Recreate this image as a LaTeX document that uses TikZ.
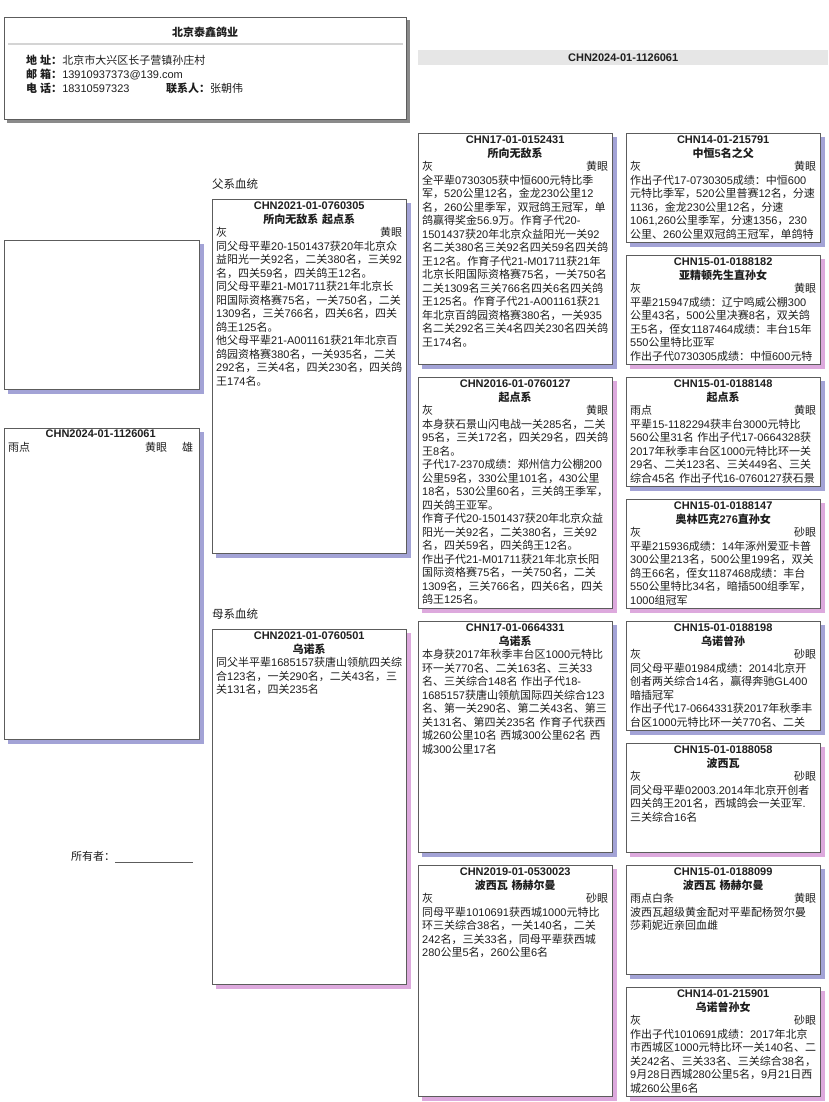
\documentclass[tikz,border=0pt]{standalone}
\usepackage{fontspec}
\setmainfont{Liberation Sans}
\newfontfamily\cjkfam{Noto Sans CJK SC}
\usetikzlibrary{positioning,backgrounds}
\definecolor{ink}{HTML}{1E1E1E}
\definecolor{edge}{HTML}{5C5C5C}
\definecolor{shblue}{HTML}{A3A3D6}
\definecolor{shpink}{HTML}{DDA9DD}
\definecolor{shgray}{HTML}{8A8A8A}
\definecolor{rule}{HTML}{D4D4D4}
\definecolor{bar}{HTML}{E6E6E6}

% Han and full-width signs in Noto, the rest in Liberation
\XeTeXinterchartokenstate=1
\newXeTeXintercharclass\cjkcls
\newcount\cjkn
\def\cjkrange#1#2{\cjkn=#1\relax
  \loop\XeTeXcharclass\cjkn=\cjkcls\relax
  \ifnum\cjkn<#2\relax\advance\cjkn by 1\relax\repeat}
\cjkrange{"3000}{"303F}
\cjkrange{"4E00}{"9FFF}
\cjkrange{"FF00}{"FFEF}
\XeTeXinterchartoks 0 \cjkcls = {\cjkfam}
\XeTeXinterchartoks 4095 \cjkcls = {\cjkfam}
\XeTeXinterchartoks \cjkcls 0 = {\rmfamily}
\XeTeXinterchartoks \cjkcls 4095 = {\rmfamily}
\exhyphenpenalty=10000
\hyphenpenalty=10000

\begin{document}
\begin{tikzpicture}[x=1pt,y=-1pt,every node/.style={font=\fontsize{11}{13.5}\selectfont,text=ink,inner sep=0pt},card/.style={draw=edge,fill=white,line width=.8pt,anchor=north west},big/.style={card,minimum width=194pt,minimum height=231pt},small/.style={card,minimum width=194pt,minimum height=109pt},info/.style={anchor=north west,text width=186pt,align=left}]
\path[use as bounding box] (0,0) rectangle (828,1102);

% header
\node[card,minimum width=402pt,minimum height=102pt] (hdr) at (4,17) {};
\node[anchor=base] (hdrT) at (205,36.5) {\bfseries 北京泰鑫鸽业};
\draw[rule,line width=1.8pt] ([xshift=4pt,yshift=-27pt]hdr.north west) -- ([xshift=-4pt,yshift=-27pt]hdr.north east);
\node[anchor=base west] (addr) at (26,65) {\textbf{地 址：}北京市大兴区长子营镇孙庄村};
\node[anchor=base west] (mail) at (26,78.5) {\textbf{邮 箱：}13910937373@139.com};
\node[anchor=base west] (tel) at (26,93) {\textbf{电 话：}18310597323};
\node[anchor=base west] (who) at (166,93) {\textbf{联系人：}张朝伟};

\node[fill=bar,anchor=north west,minimum width=410pt,minimum height=15pt] (barR) at (418,50) {};
\node[anchor=base] (barT) at ([yshift=-4pt]barR.center) {\bfseries CHN2024-01-1126061};

% bird and owner
\node[card,minimum width=195pt,minimum height=149pt] (photo) at (4,240) {};
\node[card,minimum width=195pt,minimum height=311pt] (self) at (4,428) {};
\node[anchor=north west,text width=185pt,align=left] (selfTx) at ([xshift=4pt,yshift=-2pt]self.north west) {{\centering\bfseries CHN2024-01-1126061\par}
雨点\hfill 黄眼\hspace*{15pt}雄};
\node[anchor=base west] (own) at (71,860) {所有者：};
\draw[edge,line width=.6pt] ([yshift=-2pt]own.base east) -- ++(78,0);

% parents
\node[anchor=base west,font=\fontsize{11.5}{14}\selectfont] (sireL) at (212,188.5) {父系血统};
\node[card,minimum width=194pt,minimum height=354pt] (sire) at (212,199) {};
\node[info] (sireTx) at ([xshift=4pt,yshift=-3pt]sire.north west) {{\centering\bfseries CHN2021-01-0760305\\所向无敌系 起点系\par}
灰\hfill 黄眼\hspace*{2pt}\\
同父母平辈20-1501437获20年北京众\\
益阳光一关92名，二关380名，三关92\\
名，四关59名，四关鸽王12名。\\
同父母平辈21-M01711获21年北京长\\
阳国际资格赛75名，一关750名，二关\\
1309名，三关766名，四关6名，四关\\
鸽王125名。\\
他父母平辈21-A001161获21年北京百\\
鸽园资格赛380名，一关935名，二关\\
292名，三关4名，四关230名，四关鸽\\
王174名。};

\node[anchor=base west,font=\fontsize{11.5}{14}\selectfont] (damL) at (212,618.5) {母系血统};
\node[card,minimum width=194pt,minimum height=355pt] (dam) at (212,629) {};
\node[info] (damTx) at ([xshift=4pt,yshift=-3pt]dam.north west) {{\centering\bfseries CHN2021-01-0760501\\乌诺系\par}
同父半平辈1685157获唐山领航四关综\\
合123名，一关290名，二关43名，三\\
关131名，四关235名};

% grandparents
\node[big] (ss) at (418,133) {};
\node[info] (ssTx) at ([xshift=4pt,yshift=-3pt]ss.north west) {{\centering\bfseries CHN17-01-0152431\\所向无敌系\par}
灰\hfill 黄眼\hspace*{2pt}\\
全平辈0730305获中恒600元特比季\\
军，520公里12名，金龙230公里12\\
名，260公里季军，双冠鸽王冠军，单\\
鸽赢得奖金56.9万。作育子代20-\\
1501437获20年北京众益阳光一关92\\
名二关380名三关92名四关59名四关鸽\\
王12名。作育子代21-M01711获21年\\
北京长阳国际资格赛75名，一关750名\\
二关1309名三关766名四关6名四关鸽\\
王125名。作育子代21-A001161获21\\
年北京百鸽园资格赛380名，一关935\\
名二关292名三关4名四关230名四关鸽\\
王174名。};

\node[big] (sd) at (418,377) {};
\node[info] (sdTx) at ([xshift=4pt,yshift=-3pt]sd.north west) {{\centering\bfseries CHN2016-01-0760127\\起点系\par}
灰\hfill 黄眼\hspace*{2pt}\\
本身获石景山闪电战一关285名，二关\\
95名，三关172名，四关29名，四关鸽\\
王8名。\\
子代17-2370成绩：郑州信力公棚200\\
公里59名，330公里101名，430公里\\
18名，530公里60名，三关鸽王季军，\\
四关鸽王亚军。\\
作育子代20-1501437获20年北京众益\\
阳光一关92名，二关380名，三关92\\
名，四关59名，四关鸽王12名。\\
作出子代21-M01711获21年北京长阳\\
国际资格赛75名，一关750名，二关\\
1309名，三关766名，四关6名，四关\\
鸽王125名。};

\node[big] (ds) at (418,621) {};
\node[info] (dsTx) at ([xshift=4pt,yshift=-3pt]ds.north west) {{\centering\bfseries CHN17-01-0664331\\乌诺系\par}
本身获2017年秋季丰台区1000元特比\\
环一关770名、二关163名、三关33\\
名、三关综合148名~作出子代18-\\
1685157获唐山领航国际四关综合123\\
名、第一关290名、第二关43名、第三\\
关131名、第四关235名~作育子代获西\\
城260公里10名~西城300公里62名~西\\
城300公里17名};

\node[big] (dd) at (418,865) {};
\node[info] (ddTx) at ([xshift=4pt,yshift=-3pt]dd.north west) {{\centering\bfseries CHN2019-01-0530023\\波西瓦~杨赫尔曼\par}
灰\hfill 砂眼\hspace*{2pt}\\
同母平辈1010691获西城1000元特比\\
环三关综合38名，一关140名，二关\\
242名，三关33名，同母平辈获西城\\
280公里5名，260公里6名};

% great-grandparents
\node[small] (sss) at (626,133) {};
\node[info] (sssTx) at ([xshift=4pt,yshift=-3pt]sss.north west) {{\centering\bfseries CHN14-01-215791\\中恒5名之父\par}
灰\hfill 黄眼\hspace*{2pt}\\
作出子代17-0730305成绩：中恒600\\
元特比季军，520公里普赛12名，分速\\
1136，金龙230公里12名，分速\\
1061,260公里季军，分速1356，230\\
公里、260公里双冠鸽王冠军，单鸽特};

\node[small] (ssd) at (626,255) {};
\node[info] (ssdTx) at ([xshift=4pt,yshift=-3pt]ssd.north west) {{\centering\bfseries CHN15-01-0188182\\亚精顿先生直孙女\par}
灰\hfill 黄眼\hspace*{2pt}\\
平辈215947成绩：辽宁鸣威公棚300\\
公里43名，500公里决赛8名，双关鸽\\
王5名，侄女1187464成绩：丰台15年\\
550公里特比亚军\\
作出子代0730305成绩：中恒600元特};

\node[small] (sds) at (626,377) {};
\node[info] (sdsTx) at ([xshift=4pt,yshift=-3pt]sds.north west) {{\centering\bfseries CHN15-01-0188148\\起点系\par}
雨点\hfill 黄眼\hspace*{2pt}\\
平辈15-1182294获丰台3000元特比\\
560公里31名~作出子代17-0664328获\\
2017年秋季丰台区1000元特比环一关\\
29名、二关123名、三关449名、三关\\
综合45名~作出子代16-0760127获石景};

\node[small] (sdd) at (626,499) {};
\node[info] (sddTx) at ([xshift=4pt,yshift=-3pt]sdd.north west) {{\centering\bfseries CHN15-01-0188147\\奥林匹克276直孙女\par}
灰\hfill 砂眼\hspace*{2pt}\\
平辈215936成绩：14年涿州爱亚卡普\\
300公里213名，500公里199名，双关\\
鸽王66名，侄女1187468成绩：丰台\\
550公里特比34名，暗插500组季军，\\
1000组冠军};

\node[small] (dss) at (626,621) {};
\node[info] (dssTx) at ([xshift=4pt,yshift=-3pt]dss.north west) {{\centering\bfseries CHN15-01-0188198\\乌诺曾孙\par}
灰\hfill 砂眼\hspace*{2pt}\\
同父母平辈01984成绩：2014北京开\\
创者两关综合14名，赢得奔驰GL400\\
暗插冠军\\
作出子代17-0664331获2017年秋季丰\\
台区1000元特比环一关770名、二关};

\node[small] (dsd) at (626,743) {};
\node[info] (dsdTx) at ([xshift=4pt,yshift=-3pt]dsd.north west) {{\centering\bfseries CHN15-01-0188058\\波西瓦\par}
灰\hfill 砂眼\hspace*{2pt}\\
同父母平辈02003.2014年北京开创者\\
四关鸽王201名，西城鸽会一关亚军.\\
三关综合16名};

\node[small] (dds) at (626,865) {};
\node[info] (ddsTx) at ([xshift=4pt,yshift=-3pt]dds.north west) {{\centering\bfseries CHN15-01-0188099\\波西瓦~杨赫尔曼\par}
雨点白条\hfill 黄眼\hspace*{2pt}\\
波西瓦超级黄金配对平辈配杨贺尔曼\\
莎莉妮近亲回血雌};

\node[small] (ddd) at (626,987) {};
\node[info] (dddTx) at ([xshift=4pt,yshift=-3pt]ddd.north west) {{\centering\bfseries CHN14-01-215901\\乌诺曾孙女\par}
灰\hfill 砂眼\hspace*{2pt}\\
作出子代1010691成绩：2017年北京\\
市西城区1000元特比环一关140名、二\\
关242名、三关33名、三关综合38名，\\
9月28日西城280公里5名，9月21日西\\
城260公里6名};

% shadows behind the cards
\begin{scope}[on background layer]
\fill[white] (0,0) rectangle (828,1102);
\fill[shgray] ([shift={(3pt,-3pt)}]hdr.north west) rectangle ([shift={(3pt,-3pt)}]hdr.south east);
\foreach \b in {photo,self,sire,ss,ds,sss,sds,dss,dds}
  \fill[shblue] ([shift={(4pt,-4pt)}]\b.north west) rectangle ([shift={(4pt,-4pt)}]\b.south east);
\foreach \b in {dam,sd,dd,ssd,sdd,dsd,ddd}
  \fill[shpink] ([shift={(4pt,-4pt)}]\b.north west) rectangle ([shift={(4pt,-4pt)}]\b.south east);
\end{scope}

\end{tikzpicture}
\end{document}
